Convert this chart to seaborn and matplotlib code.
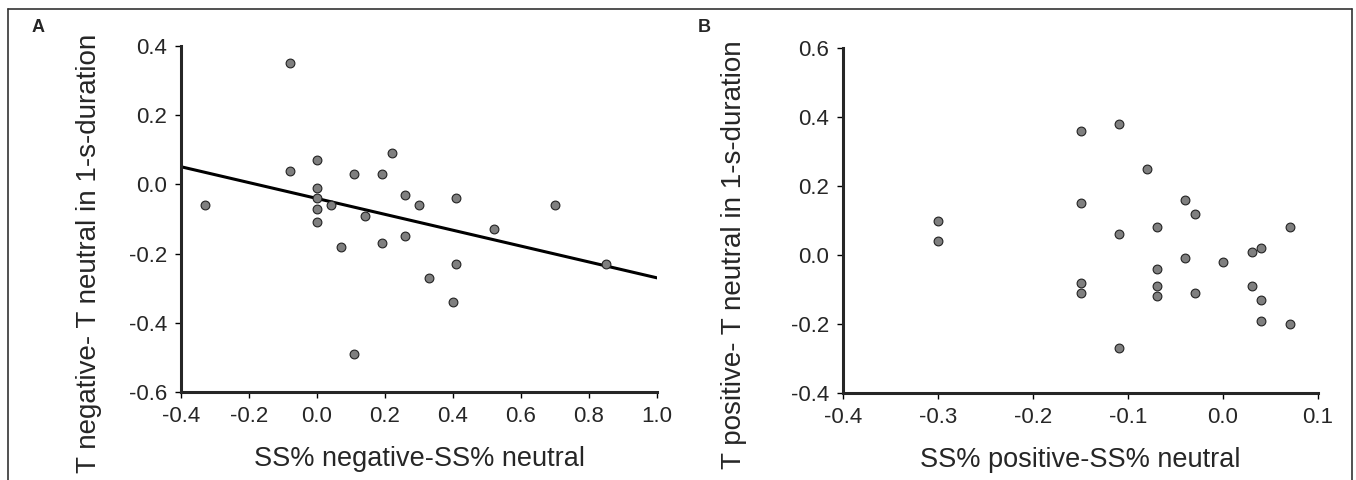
import numpy as np
import pandas as pd
import matplotlib
matplotlib.use("Agg")
import matplotlib.pyplot as plt
from matplotlib.lines import Line2D
import seaborn as sns

sns.set_style("ticks")
plt.rcParams["font.family"] = ["Liberation Sans", "DejaVu Sans"]

# panel A: negative vs neutral
neg_x = [-0.33, -0.08, -0.08, 0.0, 0.0, 0.0, 0.0, 0.0, 0.04, 0.07, 0.11, 0.11, 0.14,
         0.19, 0.19, 0.22, 0.26, 0.26, 0.30, 0.33, 0.40, 0.41, 0.41, 0.52, 0.70, 0.85]
neg_y = [-0.06, 0.35, 0.04, 0.07, -0.01, -0.04, -0.07, -0.11, -0.06, -0.18, 0.03, -0.49, -0.09,
         0.03, -0.17, 0.09, -0.03, -0.15, -0.06, -0.27, -0.34, -0.04, -0.23, -0.13, -0.06, -0.23]

# panel B: positive vs neutral
pos_x = [-0.30, -0.30, -0.15, -0.15, -0.15, -0.15, -0.11, -0.11, -0.11, -0.08, -0.07, -0.07, -0.07,
         -0.07, -0.04, -0.04, -0.03, -0.03, 0.0, 0.03, 0.03, 0.04, 0.04, 0.04, 0.07, 0.07]
pos_y = [0.10, 0.04, 0.36, 0.15, -0.08, -0.11, 0.38, 0.06, -0.27, 0.25, 0.08, -0.04, -0.09,
         -0.12, 0.16, -0.01, 0.12, -0.11, -0.02, 0.01, -0.09, 0.02, -0.13, -0.19, 0.08, -0.20]

xticks_a = [-0.4, -0.2, 0.0, 0.2, 0.4, 0.6, 0.8, 1.0]
yticks_a = [-0.6, -0.4, -0.2, 0.0, 0.2, 0.4]
xticks_b = [-0.4, -0.3, -0.2, -0.1, 0.0, 0.1]
yticks_b = [-0.4, -0.2, 0.0, 0.2, 0.4, 0.6]

df_a = pd.DataFrame({"x": neg_x, "y": neg_y})
df_b = pd.DataFrame({"x": pos_x, "y": pos_y})

W, H = 1356, 480
fig = plt.figure(figsize=(W / 100, H / 100), dpi=100)

def px_axes(left, top, right, bottom):
    return fig.add_axes([left / W, 1 - bottom / H, (right - left) / W, (bottom - top) / H])

axA = px_axes(181, 46, 657, 392)
axB = px_axes(843, 48, 1318, 393)

dot = dict(color="#7f7f7f", edgecolor="#222222", linewidth=0.8, s=40, zorder=3)

# A
axA.set_xlim(-0.4, 1.0)
axA.set_ylim(-0.6, 0.4)
sns.scatterplot(data=df_a, x="x", y="y", ax=axA, **dot)
sns.regplot(data=df_a, x="x", y="y", ax=axA, scatter=False, ci=None, truncate=False,
            line_kws=dict(color="black", lw=2.2))
axA.set_xlim(-0.4, 1.0)
axA.set_ylim(-0.6, 0.4)
axA.set_xticks(xticks_a)
axA.set_yticks(yticks_a)
axA.set_xlabel("SS% negative-SS% neutral", fontsize=19.5, labelpad=14)
axA.set_ylabel("T negative- T neutral in 1-s-duration", fontsize=20)

# B
sns.scatterplot(data=df_b, x="x", y="y", ax=axB, **dot)
axB.set_xlim(-0.4, 0.1)
axB.set_ylim(-0.4, 0.6)
axB.set_xticks(xticks_b)
axB.set_yticks(yticks_b)
axB.set_xlabel("SS% positive-SS% neutral", fontsize=19.5, labelpad=14)
axB.set_ylabel("T positive- T neutral in 1-s-duration", fontsize=20)

for ax in (axA, axB):
    sns.despine(ax=ax)
    ax.spines["left"].set_linewidth(2.2)
    ax.spines["bottom"].set_linewidth(2.2)
    ax.tick_params(axis="both", labelsize=16, width=1, length=4, color="black", pad=6)
    ax.set_xticklabels([f"{t:.1f}" for t in ax.get_xticks()])
    ax.set_yticklabels([f"{t:.1f}" for t in ax.get_yticks()])

axA.yaxis.set_label_coords(-0.165, 0.40)
axB.yaxis.set_label_coords(-0.202, 0.40)

fig.text(38 / W, 1 - 27 / H, "A", fontsize=13, fontweight="bold", ha="center", va="center")
fig.text(704 / W, 1 - 27 / H, "B", fontsize=13, fontweight="bold", ha="center", va="center")

# frame around the figure
border = dict(color="#333333", lw=1.2, transform=fig.transFigure)
fig.add_artist(Line2D([8 / W, 1352 / W], [1 - 9 / H, 1 - 9 / H], **border))
fig.add_artist(Line2D([8 / W, 8 / W], [0, 1 - 9 / H], **border))
fig.add_artist(Line2D([1352 / W, 1352 / W], [0, 1 - 9 / H], **border))

fig.savefig("out.png", dpi=100)
